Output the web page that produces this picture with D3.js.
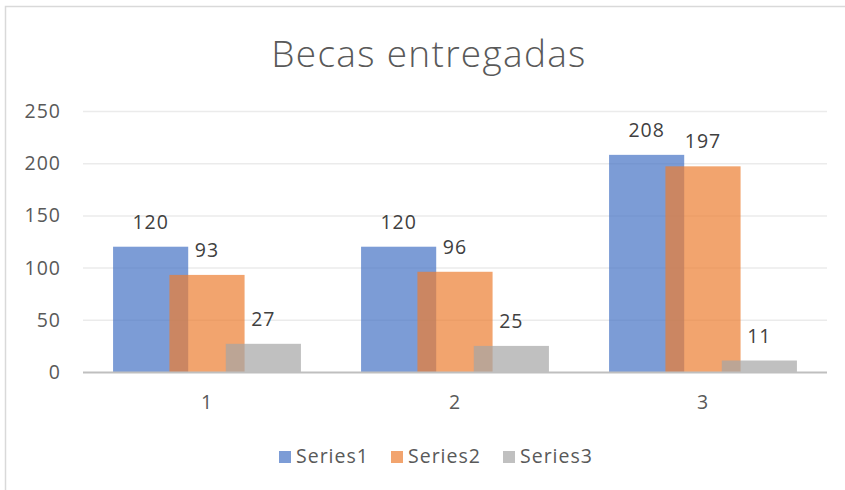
<html>
<head>
    <meta charset="utf-8">
    <title>Becas entregadas</title>
    <script src="https://d3js.org/d3.v7.min.js" charset="utf-8"></script>
    <style>
body {
    margin: 0;
    background: #fff;
    font-family: "Open Sans", "Noto Sans", sans-serif;
}
.tick-label, .cat-label, .legend-label {
    fill: #595959;
    font-size: 19.5px;
    letter-spacing: 1px;
}
.value-label {
    fill: #404040;
    font-size: 19.5px;
    letter-spacing: 1px;
}
    </style>
</head>
<body>
<script>
var width = 845;
var height = 490;

// data
var categories = ["1", "2", "3"];
var seriesNames = ["Series1", "Series2", "Series3"];
var series1 = [120, 120, 208];
var series2 = [93, 96, 197];
var series3 = [27, 25, 11];
var yTicks = [0, 50, 100, 150, 200, 250];

var colors = ["#4472C4", "#ED7D31", "#A5A5A5"];
var allSeries = [series1, series2, series3];

var svg = d3.select("body")
    .append("svg")
    .attr("width", width)
    .attr("height", height);

// chart border
svg.append("rect")
    .attr("x", 5.5)
    .attr("y", 6.5)
    .attr("width", width)
    .attr("height", height)
    .attr("fill", "none")
    .attr("stroke", "#D9D9D9")
    .attr("stroke-width", 1.5);

svg.append("text")
    .attr("x", 429)
    .attr("y", 67)
    .attr("text-anchor", "middle")
    .attr("fill", "#595959")
    .style("font-size", "37px")
    .style("font-weight", 300)
    .style("letter-spacing", "1.3px")
    .text("Becas entregadas");

var x = d3.scaleBand()
    .domain(categories)
    .range([83, 827])
    .padding(0);

var y = d3.scaleLinear()
    .domain([0, 250])
    .range([372, 111]);

// excel style gap width / overlap
var overlap = 0.25, gap = 0.8, n = allSeries.length;
var barW = x.bandwidth() / (n - (n - 1) * overlap + gap);
var groupW = barW * (n - (n - 1) * overlap);

function barX(cat, i) {
    return x(cat) + x.bandwidth() / 2 - groupW / 2 + i * barW * (1 - overlap);
}

// gridlines
svg.append("g")
    .selectAll("line")
    .data(yTicks.filter(function(d) { return d > 0; }))
    .enter()
    .append("line")
    .attr("x1", 83)
    .attr("x2", 827)
    .attr("y1", function(d) { return y(d) + 0.5; })
    .attr("y2", function(d) { return y(d) + 0.5; })
    .attr("stroke", "#EBEBEB")
    .attr("stroke-width", 1.5);

svg.append("g")
    .selectAll("text")
    .data(yTicks)
    .enter()
    .append("text")
    .attr("class", "tick-label")
    .attr("x", 61)
    .attr("y", function(d) { return y(d); })
    .attr("dy", "0.36em")
    .attr("text-anchor", "end")
    .text(function(d) { return d; });

// bars
allSeries.forEach(function(values, i) {
    var g = svg.append("g");
    g.selectAll("rect")
        .data(values)
        .enter()
        .append("rect")
        .attr("x", function(d, j) { return barX(categories[j], i); })
        .attr("y", function(d) { return y(d); })
        .attr("width", barW)
        .attr("height", function(d) { return y(0) - y(d); })
        .attr("fill", colors[i])
        .attr("fill-opacity", 0.7);
});

// value labels
allSeries.forEach(function(values, i) {
    svg.append("g")
        .selectAll("text")
        .data(values)
        .enter()
        .append("text")
        .attr("class", "value-label")
        .attr("x", function(d, j) { return barX(categories[j], i) + barW / 2; })
        .attr("y", function(d) { return y(d) - 18; })
        .attr("text-anchor", "middle")
        .text(function(d) { return d; });
});

// baseline
svg.append("line")
    .attr("x1", 83)
    .attr("x2", 827)
    .attr("y1", y(0) + 0.5)
    .attr("y2", y(0) + 0.5)
    .attr("stroke", "#BFBFBF")
    .attr("stroke-width", 2);

svg.append("g")
    .selectAll("text")
    .data(categories)
    .enter()
    .append("text")
    .attr("class", "cat-label")
    .attr("x", function(d) { return x(d) + x.bandwidth() / 2; })
    .attr("y", 409)
    .attr("text-anchor", "middle")
    .text(function(d) { return d; });

// legend
var legendX = [279, 391, 503];
var legend = svg.append("g");
seriesNames.forEach(function(name, i) {
    legend.append("rect")
        .attr("x", legendX[i])
        .attr("y", 451)
        .attr("width", 12)
        .attr("height", 12)
        .attr("fill", colors[i])
        .attr("fill-opacity", 0.7);
    legend.append("text")
        .attr("class", "legend-label")
        .attr("x", legendX[i] + 17)
        .attr("y", 463)
        .text(name);
});
</script>
</body>
</html>
